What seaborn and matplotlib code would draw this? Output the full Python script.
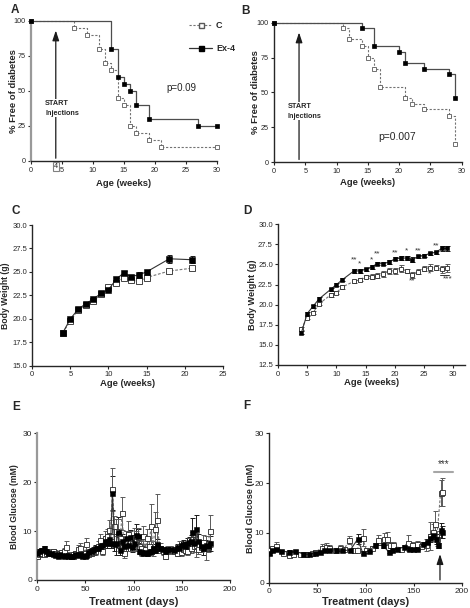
import numpy as np
import pandas as pd
import matplotlib
matplotlib.use("Agg")
from matplotlib import pyplot as plt
import seaborn as sns


# # Data

# panel A - survival (% free of diabetes)
a_ctrl_wk = [0, 7, 9, 11, 12, 13, 14, 15, 16, 17, 19, 21, 30]
a_ctrl_pct = [100, 95, 90, 80, 70, 65, 45, 40, 25, 20, 15, 10, 10]
a_ex4_wk = [0, 13, 14, 15, 16, 17, 19, 27, 30]
a_ex4_pct = [100, 80, 60, 55, 50, 40, 30, 25, 25]

# panel B - survival
b_ctrl_wk = [0, 11, 12, 14, 15, 16, 17, 21, 22, 24, 28, 29]
b_ctrl_pct = [100, 96, 88, 83, 75, 67, 54, 46, 42, 38, 33, 13]
b_ex4_wk = [0, 14, 16, 20, 21, 24, 28, 29]
b_ex4_pct = [100, 96, 83, 79, 71, 67, 63, 46]

# panel C - body weight
c_wk = [4, 5, 6, 7, 8, 9, 10, 11, 12, 13, 14, 15, 18, 21]
c_ex4 = [18.5, 20.0, 21.0, 21.6, 22.1, 22.7, 23.1, 24.2, 24.9, 24.5, 24.7, 25.0, 26.4, 26.3]
c_ex4_err = [0.15, 0.15, 0.15, 0.15, 0.15, 0.15, 0.15, 0.2, 0.25, 0.2, 0.25, 0.25, 0.4, 0.4]
c_ctrl = [18.5, 19.8, 20.9, 21.5, 21.9, 22.6, 23.4, 23.8, 24.4, 24.1, 24.0, 24.4, 25.1, 25.4]
c_ctrl_err = [0.15, 0.15, 0.15, 0.15, 0.15, 0.15, 0.15, 0.15, 0.2, 0.2, 0.2, 0.2, 0.2, 0.2]

# panel D - body weight
d_wk = [4, 5, 6, 7, 9, 10, 11, 13, 14, 15, 16, 17, 18, 19, 20, 21, 22, 23, 24, 25, 26, 27, 28, 29]
d_ex4 = [16.5, 18.9, 19.8, 20.7, 21.9, 22.5, 23.1, 24.2, 24.2, 24.4, 24.7, 25.1, 25.1, 25.3, 25.7,
         25.8, 25.8, 25.6, 26.0, 26.1, 26.4, 26.5, 27.0, 27.0]
d_ex4_err = [0.2, 0.2, 0.2, 0.2, 0.2, 0.2, 0.2, 0.2, 0.2, 0.2, 0.2, 0.2, 0.2, 0.2, 0.2,
             0.2, 0.2, 0.3, 0.2, 0.2, 0.2, 0.2, 0.3, 0.3]
d_ctrl = [17.0, 18.4, 19.0, 20.1, 21.2, 21.5, 22.2, 22.9, 23.1, 23.5, 23.5, 23.6, 23.8, 24.2, 24.2,
          24.5, 24.2, 23.7, 24.1, 24.5, 24.6, 24.6, 24.4, 24.6]
d_ctrl_err = [0.2, 0.2, 0.2, 0.2, 0.2, 0.2, 0.2, 0.2, 0.2, 0.2, 0.3, 0.3, 0.4, 0.4, 0.4,
              0.4, 0.3, 0.4, 0.3, 0.3, 0.4, 0.3, 0.4, 0.5]
d_star_x = [13, 14, 16, 17, 20, 22, 24, 27, 23, 26, 29]
d_star_y = [25.6, 25.1, 25.6, 26.3, 26.5, 26.7, 26.7, 27.3, 22.9, 23.8, 23.2]
d_star_txt = ["**", "*", "*", "**", "**", "*", "**", "**", "**", "*", "***"]

# panel E - blood glucose
e_days = [0, 2, 4, 7, 9, 11, 14, 16, 18, 21, 23, 25, 28, 30, 32, 35, 37, 39, 42, 44, 46, 49, 51,
          53, 56, 58, 60, 63, 65, 67, 70, 72, 74, 76, 78, 80, 82, 84, 86, 88, 90, 92, 94, 96, 98,
          100, 102, 104, 106, 108, 110, 112, 114, 116, 118, 120, 122, 124, 127, 130, 132, 135,
          138, 142, 145, 147, 149, 151, 153, 155, 157, 159, 161, 163, 165, 167, 170, 172, 175,
          177, 179]
e_ex4 = [5.5, 6.0, 6.2, 6.5, 5.9, 5.6, 5.5, 5.4, 5.2, 5.0, 5.3, 5.1, 4.9, 5.2, 4.8, 4.9, 5.0, 5.3,
         5.1, 5.4, 5.0, 4.9, 5.2, 5.8, 6.0, 6.2, 6.5, 6.6, 6.9, 7.2, 8.0, 7.5, 8.3, 7.6, 17.8, 7.4,
         7.6, 9.8, 6.2, 8.0, 7.0, 8.5, 7.2, 8.8, 6.8, 7.5, 9.2, 9.0, 6.0, 5.8, 5.6, 5.7, 5.5, 5.8,
         6.0, 6.5, 6.2, 7.3, 6.5, 6.3, 5.9, 6.3, 6.4, 6.2, 6.7, 6.5, 7.2, 7.3, 7.0, 7.6, 7.8, 8.0,
         9.9, 7.5, 10.4, 8.0, 7.0, 6.6, 7.2, 6.9, 7.5]
e_ex4_err = [0.4, 0.4, 0.4, 0.4, 0.4, 0.4, 0.4, 0.4, 0.4, 0.4, 0.4, 0.4, 0.4, 0.4, 0.4, 0.4, 0.4,
             0.4, 0.4, 0.4, 0.4, 0.4, 0.4, 0.5, 0.5, 0.5, 0.6, 0.6, 0.8, 0.8, 1.0, 1.0, 1.2, 1.0,
             3.5, 1.5, 2.5, 3.0, 1.0, 1.5, 1.2, 1.5, 1.2, 1.5, 1.0, 1.2, 2.3, 1.5, 0.6, 0.5, 0.5,
             0.5, 0.5, 0.5, 0.6, 0.8, 0.6, 1.0, 0.5, 0.5, 0.5, 0.5, 0.5, 0.5, 0.6, 0.6, 0.8, 0.8,
             0.8, 1.0, 1.0, 1.2, 2.8, 1.2, 2.8, 1.5, 1.0, 1.5, 1.0, 1.0, 1.5]
e_ctrl = [5.0, 5.3, 5.5, 5.4, 5.6, 5.5, 5.8, 5.9, 5.6, 5.4, 5.5, 5.7, 6.0, 6.8, 5.2, 5.0, 5.3, 5.5,
          6.3, 6.6, 5.4, 5.6, 7.3, 5.3, 5.5, 5.8, 6.0, 7.0, 8.2, 6.0, 8.5, 9.0, 10.3, 9.0, 18.5,
          11.0, 10.0, 9.5, 8.5, 13.6, 5.5, 8.0, 9.5, 8.0, 7.5, 8.7, 8.0, 8.7, 7.0, 6.5, 9.0, 6.3,
          8.5, 7.0, 11.0, 6.5, 10.5, 12.3, 6.6, 6.0, 4.8, 6.2, 6.2, 6.0, 5.6, 7.0, 5.8, 6.3, 6.1,
          6.0, 7.3, 6.5, 8.4, 7.0, 7.2, 6.4, 6.8, 7.7, 6.5, 6.8, 10.0]
e_ctrl_err = [0.5, 0.5, 0.5, 0.5, 0.5, 0.5, 0.5, 0.5, 0.5, 0.5, 0.5, 0.5, 0.6, 1.2, 0.5, 0.5, 0.5,
              0.5, 0.8, 1.0, 0.5, 0.6, 1.2, 0.5, 0.5, 0.6, 0.8, 1.0, 1.3, 0.8, 1.6, 1.5, 2.0, 1.5,
              4.3, 2.0, 2.5, 3.0, 2.0, 3.3, 1.0, 2.0, 2.5, 2.0, 1.5, 2.0, 2.0, 2.0, 1.5, 1.5, 2.0,
              1.0, 2.0, 1.5, 4.5, 1.5, 3.5, 5.2, 1.0, 0.8, 0.5, 0.8, 0.8, 0.6, 0.6, 1.0, 0.8, 0.8,
              0.8, 0.8, 1.2, 1.0, 1.5, 1.2, 2.5, 1.0, 1.0, 1.5, 2.5, 1.0, 3.3]

# panel F - blood glucose
f_ex4_days = [0, 3, 7, 12, 20, 27, 35, 41, 48, 53, 57, 62, 69, 76, 84, 92, 97, 104, 110, 118,
              124, 128, 133, 140, 145, 149, 154, 160, 164, 167, 170, 173, 175, 178, 180]
f_ex4 = [5.9, 6.5, 6.8, 6.3, 6.2, 6.3, 5.8, 5.7, 6.0, 6.2, 6.5, 6.6, 6.6, 6.5, 6.5, 8.8, 6.0,
         6.4, 7.5, 7.5, 6.2, 6.6, 6.7, 7.2, 6.8, 6.8, 6.8, 7.8, 8.2, 9.0, 9.5, 8.8, 7.5, 10.5, 10.2]
f_ex4_err = [0.3, 0.3, 0.3, 0.3, 0.3, 0.3, 0.3, 0.3, 0.3, 0.3, 0.3, 0.3, 0.3, 0.3, 0.3, 1.0, 0.3,
             0.3, 0.5, 0.5, 0.3, 0.3, 0.3, 0.3, 0.3, 0.3, 0.3, 0.4, 0.5, 0.8, 0.8, 1.0, 0.5, 1.5, 1.2]
f_ctrl_days = [0, 3, 7, 14, 20, 25, 32, 38, 44, 48, 55, 59, 62, 68, 73, 78, 83, 88, 91, 97, 101,
               107, 113, 119, 122, 125, 129, 137, 144, 148, 153, 158, 163, 167, 170, 172, 174,
               178, 180]
f_ctrl = [6.5, 7.0, 7.4, 6.0, 5.5, 5.7, 5.7, 5.7, 5.9, 6.2, 7.0, 7.2, 7.0, 6.5, 7.0, 6.8, 8.5,
          6.6, 6.5, 9.0, 6.5, 7.0, 8.6, 8.8, 8.8, 7.5, 7.6, 6.8, 8.0, 7.6, 7.8, 7.3, 7.6, 9.3,
          10.2, 11.8, 8.8, 18.0, 18.3]
f_ctrl_err = [0.3, 0.3, 0.8, 0.3, 0.3, 0.3, 0.3, 0.3, 0.3, 0.3, 0.8, 0.8, 0.5, 0.3, 0.5, 0.4,
              0.8, 0.3, 0.3, 1.7, 0.4, 0.4, 1.0, 1.2, 1.3, 0.6, 0.5, 0.4, 1.6, 0.5, 0.5, 0.4,
              1.2, 2.8, 1.5, 2.6, 1.5, 2.6, 2.8]


# # Style

sns.set_style("ticks")
plt.rcParams["font.family"] = ["Liberation Sans", "DejaVu Sans"]
plt.rcParams["axes.linewidth"] = 1.0
plt.rcParams["xtick.major.size"] = 2.5
plt.rcParams["ytick.major.size"] = 2.5
plt.rcParams["xtick.major.pad"] = 1.5
plt.rcParams["ytick.major.pad"] = 1.2


def setup_axis(ax, xlabel, ylabel, xlab_y, ylab_x, xfs, yfs, tfs, spine_col="0.15"):
    sns.despine(ax=ax)
    ax.spines["left"].set_color(spine_col)
    ax.spines["bottom"].set_color("0.15")
    if spine_col != "0.15":
        ax.spines["left"].set_linewidth(1.6)
    ax.tick_params(labelsize=tfs, colors="0.15", width=0.8)
    ax.set_xlabel(xlabel, fontsize=xfs, weight="bold")
    ax.set_ylabel(ylabel, fontsize=yfs, weight="bold")
    ax.xaxis.set_label_coords(0.5, xlab_y)
    ax.yaxis.set_label_coords(ylab_x, 0.5)
    ax.xaxis.label.set_va("center")
    ax.yaxis.label.set_va("center")


def survival(ax, wk, pct, filled):
    df = pd.DataFrame({"wk": wk, "pct": pct})
    if filled:
        sns.lineplot(data=df, x="wk", y="pct", ax=ax, drawstyle="steps-post", color="0.3",
                     lw=0.9, marker="s", ms=2.9, mfc="black", mec="black", mew=0.5,
                     errorbar=None, clip_on=False, zorder=4)
    else:
        sns.lineplot(data=df, x="wk", y="pct", ax=ax, drawstyle="steps-post", color="0.45",
                     lw=0.8, linestyle=(0, (2, 1.5)), marker="s", ms=2.7, mfc="white",
                     mec="0.35", mew=0.6, errorbar=None, clip_on=False, zorder=3)


def group(ax, x, y, err, filled, ms=3.8):
    df = pd.DataFrame({"x": x, "y": y})
    if filled:
        ax.errorbar(x, y, yerr=err, fmt="none", ecolor="0.1", elinewidth=0.7, capsize=1.8,
                    capthick=0.7, zorder=2)
        sns.lineplot(data=df, x="x", y="y", ax=ax, color="0.2", lw=0.8, marker="s", ms=ms,
                     mfc="black", mec="black", mew=0.4, errorbar=None, zorder=4)
    else:
        ax.errorbar(x, y, yerr=err, fmt="none", ecolor="0.35", elinewidth=0.7, capsize=1.8,
                    capthick=0.7, zorder=2)
        sns.lineplot(data=df, x="x", y="y", ax=ax, color="0.45", lw=0.8,
                     linestyle=(0, (2.5, 1.5)), marker="s", ms=ms, mfc="white", mec="0.15",
                     mew=0.6, errorbar=None, zorder=3)


ARROW = dict(arrowstyle="-|>,head_length=0.6,head_width=0.2", color="0.1", lw=0.9)
LETTER_FS = 8.5

fig = plt.figure(figsize=(4.7, 6.08), dpi=100)

# # Panel A

axA = fig.add_axes([0.0660, 0.7352, 0.3951, 0.2308])
survival(axA, a_ctrl_wk, a_ctrl_pct, False)
survival(axA, a_ex4_wk, a_ex4_pct, True)
axA.set_xlim(0, 30)
axA.set_ylim(0, 100)
axA.set_xticks([0, 5, 10, 15, 20, 25, 30])
axA.set_yticks([0, 25, 50, 75, 100])
setup_axis(axA, "Age (weeks)", "% Free of diabetes", -0.157, -0.097, 6.8, 6.8, 5.2,
           spine_col="0.6")
axA.annotate("", xy=(4, 95), xytext=(4, 0), arrowprops=ARROW)
axA.text(2.3, 37.5, "START\nInjections", fontsize=5.2, weight="bold", va="center", ha="left",
         linespacing=1.5, bbox=dict(facecolor="white", edgecolor="none", pad=0.5), zorder=5)
axA.annotate("4", xy=(4, 0), xytext=(0, -1.2), textcoords="offset points", fontsize=5.2,
             ha="center", va="top", color="0.15", annotation_clip=False,
             bbox=dict(facecolor="white", edgecolor="0.5", pad=0.8, lw=0.8))
axA.text(21.9, 52, "p=0.09", fontsize=7, ha="left", va="center")
leg_handles = [
    plt.Line2D([], [], color="0.45", lw=0.8, linestyle=(0, (2, 1.5)), marker="s", ms=3.6,
               mfc="white", mec="0.35"),
    plt.Line2D([], [], color="0.2", lw=0.9, marker="s", ms=3.6, mfc="black", mec="black"),
]
axA.legend(leg_handles, ["C", "Ex-4"], loc="upper left", bbox_to_anchor=(0.85, 1.0),
           frameon=False, prop=dict(size=6.5, weight="bold"), handlelength=2.6,
           labelspacing=1.6, handletextpad=0.4, borderaxespad=0, borderpad=0)
fig.text(11 / 470, 1 - 10 / 608, "A", fontsize=LETTER_FS, weight="bold", va="center", ha="left")

# # Panel B

axB = fig.add_axes([0.5830, 0.7331, 0.3994, 0.2296])
survival(axB, b_ctrl_wk, b_ctrl_pct, False)
survival(axB, b_ex4_wk, b_ex4_pct, True)
axB.set_xlim(0, 30)
axB.set_ylim(0, 100)
axB.set_xticks([0, 5, 10, 15, 20, 25, 30])
axB.set_yticks([0, 25, 50, 75, 100])
setup_axis(axB, "Age (weeks)", "% Free of diabetes", -0.148, -0.101, 6.8, 6.8, 5.2)
axB.annotate("", xy=(4, 95), xytext=(4, 0), arrowprops=ARROW)
axB.text(2.2, 36.5, "START\nInjections", fontsize=5.2, weight="bold", va="center", ha="left",
         linespacing=1.5, bbox=dict(facecolor="white", edgecolor="none", pad=0.5), zorder=5)
axB.text(16.6, 18, "p=0.007", fontsize=7.5, ha="left", va="center")
fig.text(241 / 470, 1 - 11 / 608, "B", fontsize=LETTER_FS, weight="bold", va="center", ha="left")

# # Panel C

axC = fig.add_axes([0.0687, 0.3985, 0.4051, 0.2314])
group(axC, c_wk, c_ctrl, c_ctrl_err, False, ms=4)
group(axC, c_wk, c_ex4, c_ex4_err, True, ms=4)
axC.set_xlim(0, 25)
axC.set_ylim(15, 30)
axC.set_xticks([0, 5, 10, 15, 20, 25])
axC.set_yticks([15, 17.5, 20, 22.5, 25, 27.5, 30])
axC.yaxis.set_major_formatter(matplotlib.ticker.FormatStrFormatter("%.1f"))
setup_axis(axC, "Age (weeks)", "Body Weight (g)", -0.123, -0.143, 6.8, 6.2, 5.5)
fig.text(11 / 470, 1 - 211 / 608, "C", fontsize=LETTER_FS, weight="bold", va="center", ha="left")

# # Panel D

axD = fig.add_axes([0.5915, 0.3997, 0.3979, 0.2314])
group(axD, d_wk, d_ctrl, d_ctrl_err, False, ms=3.5)
group(axD, d_wk, d_ex4, d_ex4_err, True, ms=3.5)
axD.set_xlim(0, 32)
axD.set_ylim(12.5, 30)
axD.set_xticks([0, 5, 10, 15, 20, 25, 30])
axD.set_yticks([12.5, 15, 17.5, 20, 22.5, 25, 27.5, 30])
axD.yaxis.set_major_formatter(matplotlib.ticker.FormatStrFormatter("%.1f"))
setup_axis(axD, "Age (weeks)", "Body Weight (g)", -0.128, -0.139, 6.8, 6.6, 5.5)
for sx, sy, st in zip(d_star_x, d_star_y, d_star_txt):
    axD.text(sx, sy, st, fontsize=6, ha="center", va="center", color="0.2")
axD.plot([27.8, 29.2], [23.7, 23.7], color="0.2", lw=0.7)
fig.text(243 / 470, 1 - 211 / 608, "D", fontsize=LETTER_FS, weight="bold", va="center", ha="left")

# # Panel E

axE = fig.add_axes([0.0794, 0.0461, 0.4100, 0.2413])
group(axE, e_days, e_ex4, e_ex4_err, True, ms=3.6)
group(axE, e_days, e_ctrl, e_ctrl_err, False, ms=3.6)
axE.set_xlim(0, 200)
axE.set_ylim(0, 30)
axE.set_xticks([0, 50, 100, 150, 200])
axE.set_yticks([0, 10, 20, 30])
setup_axis(axE, "Treatment (days)", "Blood Glucose (mM)", -0.148, -0.116, 8, 6.2, 6,
           spine_col="0.6")
fig.text(12 / 470, 1 - 407 / 608, "E", fontsize=LETTER_FS, weight="bold", va="center", ha="left")

# # Panel F

axF = fig.add_axes([0.5730, 0.0416, 0.4094, 0.2457])
group(axF, f_ctrl_days, f_ctrl, f_ctrl_err, False, ms=3.6)
group(axF, f_ex4_days, f_ex4, f_ex4_err, True, ms=3.6)
axF.set_xlim(0, 200)
axF.set_ylim(0, 30)
axF.set_xticks([0, 50, 100, 150, 200])
axF.set_yticks([0, 10, 20, 30])
setup_axis(axF, "Treatment (days)", "Blood Glucose (mM)", -0.127, -0.10, 7.8, 6.6, 6)
axF.plot([171, 190.5], [22.2, 22.2], color="0.65", lw=1.5)
axF.text(181, 23.8, "***", fontsize=7, ha="center", va="center", color="0.2")
axF.annotate("", xy=(177.4, 6.3), xytext=(177.4, 0), arrowprops=ARROW)
fig.text(243 / 470, 1 - 406 / 608, "F", fontsize=LETTER_FS, weight="bold", va="center", ha="left")

fig.savefig("out.png", dpi=100)
